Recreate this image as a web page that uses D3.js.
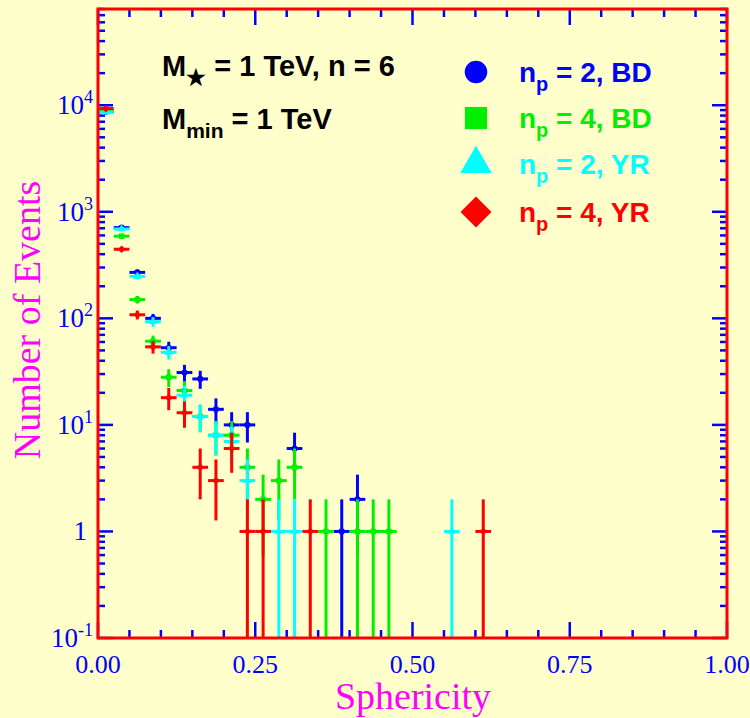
<!DOCTYPE html>
<html>
<head>
<meta charset="utf-8">
<script src="https://cdn.jsdelivr.net/npm/d3@7"></script>
<style>
  body { margin: 0; background: #ffffcc; }
  svg { display: block; }
</style>
</head>
<body>
<div id="chart"></div>
<script>
// bin centres in sphericity (bin width 0.025)
var binCenters = [0.0125, 0.0375, 0.0625, 0.0875, 0.1125, 0.1375, 0.1625, 0.1875,
    0.2125, 0.2375, 0.2625, 0.2875, 0.3125, 0.3375, 0.3625, 0.3875, 0.4125,
    0.4375, 0.4625, 0.4875, 0.5125, 0.5375, 0.5625, 0.5875, 0.6125];
var binWidth = 0.025;

// event counts per bin (null = empty bin)
var np2BD = [8700, 710, 270, 100, 53, 31, 27, 14, 10, 10, null, null, 6, null,
    null, 1, 2, null, null, null, null, null, null, null, null];
var np4BD = [8800, 590, 150, 61, 28, 21, 12, 8, 8, 4, 2, 3, 4, null,
    1, null, 1, 1, 1, null, null, null, null, null, null];
var np2YR = [8600, 690, 248, 93, 48, 19, 12, 8, 7, 3, null, 1, 1, null,
    null, null, null, null, null, null, null, null, 1, null, null];
var np4YR = [9300, 445, 108, 54, 18, 13, 4, 3, 6, 1, 1, null, null, 1,
    null, null, null, null, null, null, null, null, null, null, 1];

var xTicks = [0, 0.25, 0.5, 0.75, 1];
var xTickLabels = ["0.00", "0.25", "0.50", "0.75", "1.00"];
var yTicks = [0.1, 1, 10, 100, 1000, 10000];
var yTickBase = ["10", "1", "10", "10", "10", "10"];
var yTickExp = ["-1", "", "1", "2", "3", "4"];

// diamond = square turned by 45 degrees
var symbolRhomb = {
    draw: function (context, size) {
        var r = Math.sqrt(size / 2);
        context.moveTo(0, -r);
        context.lineTo(r, 0);
        context.lineTo(0, r);
        context.lineTo(-r, 0);
        context.closePath();
    }
};

var series = [
    {name: "2, BD", values: np2BD, color: "#0000ff", symbol: d3.symbolCircle},
    {name: "4, BD", values: np4BD, color: "#00ee00", symbol: d3.symbolSquare},
    {name: "2, YR", values: np2YR, color: "#00ffff", symbol: d3.symbolTriangle},
    {name: "4, YR", values: np4YR, color: "#ff0000", symbol: symbolRhomb}
];

var width = 750, height = 718;
var plotLeft = 98, plotRight = 727, plotTop = 9, plotBottom = 638;

var svg = d3.select('#chart').append('svg')
    .attr('width', width)
    .attr('height', height);

svg.append('rect')
    .attr('width', width)
    .attr('height', height)
    .style('fill', '#ffffcc');

var x = d3.scaleLinear().domain([0, 1]).range([plotLeft, plotRight]);
var y = d3.scaleLog().domain([0.1, 8e4]).range([plotBottom, plotTop]).clamp(true);

// ticks
var ticks = svg.append('g').attr('class', 'ticks')
    .style('stroke', '#0000ff')
    .style('stroke-width', 2.5);

var xMinor = d3.range(0, 1.0001, 0.05);
xMinor.forEach(function (t) {
    var major = Math.abs(t * 4 - Math.round(t * 4)) < 1e-6,
        len = major ? 16 : 8;
    ticks.append('line')
        .attr('x1', x(t)).attr('x2', x(t))
        .attr('y1', plotBottom).attr('y2', plotBottom - len);
    ticks.append('line')
        .attr('x1', x(t)).attr('x2', x(t))
        .attr('y1', plotTop).attr('y2', plotTop + len);
});

var d, m, v, yMinor = [];
for (d = -1; d <= 4; d += 1) {
    for (m = 1; m <= 9; m += 1) {
        v = m * Math.pow(10, d);
        if (v <= 8e4) {
            yMinor.push({v: v, major: m === 1});
        }
    }
}
yMinor.forEach(function (t) {
    var len = t.major ? 15 : 7;
    ticks.append('line')
        .attr('x1', plotLeft).attr('x2', plotLeft + len)
        .attr('y1', y(t.v)).attr('y2', y(t.v));
    ticks.append('line')
        .attr('x1', plotRight).attr('x2', plotRight - len)
        .attr('y1', y(t.v)).attr('y2', y(t.v));
});

// tick labels
svg.selectAll('.xlabel').data(xTicks).enter().append('text')
    .attr('class', 'xlabel')
    .attr('x', function (t) { return x(t); })
    .attr('y', 673)
    .attr('text-anchor', 'middle')
    .style('font-family', '"Liberation Serif", "DejaVu Serif", serif')
    .style('font-size', '26px')
    .style('fill', '#0000ff')
    .text(function (t, i) { return xTickLabels[i]; });

yTicks.forEach(function (t, i) {
    var txt = svg.append('text')
        .attr('x', yTickExp[i] === "" ? 87 : 93)
        .attr('y', y(t) + 9)
        .attr('text-anchor', 'end')
        .style('font-family', '"Liberation Serif", "DejaVu Serif", serif')
        .style('font-size', '27px')
        .style('fill', '#0000ff');
    txt.append('tspan').text(yTickBase[i]);
    if (yTickExp[i] !== "") {
        txt.append('tspan')
            .attr('dy', -11)
            .style('font-size', '18px')
            .text(yTickExp[i]);
    }
});

// axis titles
svg.append('text')
    .attr('x', 413)
    .attr('y', 709)
    .attr('text-anchor', 'middle')
    .style('font-family', '"Liberation Serif", "DejaVu Serif", serif')
    .style('font-size', '38px')
    .style('fill', '#ff00ff')
    .text('Sphericity');

svg.append('text')
    .attr('transform', 'translate(40,320) rotate(-90)')
    .attr('text-anchor', 'middle')
    .style('font-family', '"Liberation Serif", "DejaVu Serif", serif')
    .style('font-size', '38px')
    .style('fill', '#ff00ff')
    .text('Number of Events');

// data: error crosses, drawn blue, green, cyan, red
var plot = svg.append('g').attr('class', 'data');
series.forEach(function (s) {
    var pts = [];
    s.values.forEach(function (val, i) {
        if (val !== null) {
            pts.push({x: binCenters[i], v: val});
        }
    });
    var g = plot.append('g')
        .style('stroke', s.color)
        .style('fill', s.color)
        .style('stroke-width', 3);
    g.selectAll('.hbar').data(pts).enter().append('line')
        .attr('x1', function (p) { return x(p.x - binWidth / 2); })
        .attr('x2', function (p) { return x(p.x + binWidth / 2); })
        .attr('y1', function (p) { return y(p.v); })
        .attr('y2', function (p) { return y(p.v); });
    g.selectAll('.vbar').data(pts).enter().append('line')
        .attr('x1', function (p) { return x(p.x); })
        .attr('x2', function (p) { return x(p.x); })
        .attr('y1', function (p) { return y(Math.max(p.v - Math.sqrt(p.v), 1e-3)); })
        .attr('y2', function (p) { return y(p.v + Math.sqrt(p.v)); });
    g.selectAll('.mark').data(pts).enter().append('path')
        .attr('transform', function (p) { return 'translate(' + x(p.x) + ',' + y(p.v) + ')'; })
        .attr('d', d3.symbol().type(s.symbol).size(30))
        .style('stroke', 'none');
});

// frame
svg.append('rect')
    .attr('x', plotLeft)
    .attr('y', plotTop)
    .attr('width', plotRight - plotLeft)
    .attr('height', plotBottom - plotTop)
    .style('fill', 'none')
    .style('stroke', '#ff0000')
    .style('stroke-width', 3);

// annotations
var ann = svg.append('g')
    .style('font-family', '"Liberation Sans", Arial, sans-serif')
    .style('font-weight', 'bold')
    .style('font-size', '29px')
    .style('fill', '#000000');
var t1 = ann.append('text').attr('x', 162).attr('y', 76);
t1.append('tspan').text('M');
t1.append('tspan').attr('dy', 9).style('font-size', '22px').text('\u2605');
t1.append('tspan').attr('dy', -9).text(' = 1 TeV, n = 6');
var t2 = ann.append('text').attr('x', 162).attr('y', 129);
t2.append('tspan').text('M');
t2.append('tspan').attr('dy', 9).style('font-size', '21px').text('min');
t2.append('tspan').attr('dy', -9).text(' = 1 TeV');

// legend
var legendY = [72, 118, 164, 212];
var legendSize = [400, 490, 430, 480];
var legend = svg.append('g');
series.forEach(function (s, i) {
    legend.append('path')
        .attr('transform', 'translate(476,' + legendY[i] + ')')
        .attr('d', d3.symbol().type(s.symbol).size(legendSize[i]))
        .style('fill', s.color);
    var t = legend.append('text')
        .attr('x', 519)
        .attr('y', legendY[i] + 10)
        .style('font-family', '"Liberation Sans", Arial, sans-serif')
        .style('font-weight', 'bold')
        .style('font-size', '28px')
        .style('fill', s.color);
    t.append('tspan').text('n');
    t.append('tspan').attr('dy', 9).style('font-size', '20px').text('p');
    t.append('tspan').attr('dy', -9).text(' = ' + s.name);
});
</script>
</body>
</html>
